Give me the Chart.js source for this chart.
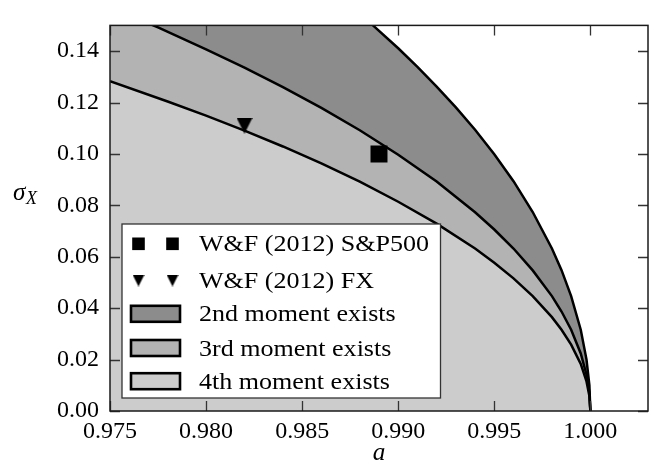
<!DOCTYPE html>
<html>
<head>
<meta charset="utf-8">
<script src="https://cdn.jsdelivr.net/npm/chart.js@4/dist/chart.umd.min.js"></script>
<style>
  html, body { margin: 0; padding: 0; background: #fff; overflow: hidden; }
  #wrap { width: 653px; height: 466px; overflow: hidden; position: relative; }
  canvas { display: block; }
</style>
</head>
<body>
<div id="wrap"><canvas id="c" width="660" height="466"></canvas></div>
<script>
// Boundary of the region where the 2nd moment exists
const aSecond = [0.975, 0.980, 0.985, 0.9887, 0.990, 0.991, 0.992, 0.993, 0.994, 0.995, 0.996, 0.997, 0.998, 0.9985, 0.999, 0.9995, 0.9998, 0.99995, 1.0];
const sigmaSecond = [0.2222, 0.1990, 0.1726, 0.1499, 0.1411, 0.1339, 0.1262, 0.1181, 0.1094, 0.0999, 0.0894, 0.0774, 0.0632, 0.0548, 0.0447, 0.0316, 0.0200, 0.0100, 0];

// Boundary of the region where the 3rd moment exists
const aThird = [0.975, 0.9775, 0.980, 0.982, 0.984, 0.986, 0.988, 0.990, 0.992, 0.994, 0.995, 0.996, 0.997, 0.998, 0.9985, 0.999, 0.9995, 0.9998, 0.99995, 1.0];
const sigmaThird = [0.1571, 0.1492, 0.1407, 0.1336, 0.1260, 0.1179, 0.1092, 0.0997, 0.0893, 0.0773, 0.0706, 0.0632, 0.0547, 0.0447, 0.0387, 0.0316, 0.0224, 0.0141, 0.0071, 0];

// Boundary of the region where the 4th moment exists
const aFourth = [0.975, 0.978, 0.980, 0.982, 0.984, 0.986, 0.988, 0.990, 0.992, 0.994, 0.995, 0.996, 0.997, 0.998, 0.9985, 0.999, 0.9995, 0.9998, 0.99995, 1.0];
const sigmaFourth = [0.1283, 0.1204, 0.1149, 0.1091, 0.1029, 0.0963, 0.0892, 0.0814, 0.0729, 0.0632, 0.0577, 0.0516, 0.0447, 0.0365, 0.0316, 0.0258, 0.0183, 0.0115, 0.0058, 0];

// Published estimates
const aSP500 = [0.989];
const sigmaSP500 = [0.100];
const aFX = [0.982];
const sigmaFX = [0.111];

// Axis ticks
const xTicks = [0.975, 0.980, 0.985, 0.990, 0.995, 1.000];
const xTickLabels = ['0.975', '0.980', '0.985', '0.990', '0.995', '1.000'];
const yTicks = [0.00, 0.02, 0.04, 0.06, 0.08, 0.10, 0.12, 0.14];
const yTickLabels = ['0.00', '0.02', '0.04', '0.06', '0.08', '0.10', '0.12', '0.14'];

const legendLabels = ['W&F (2012) S&P500', 'W&F (2012) FX', '2nd moment exists', '3rd moment exists', '4th moment exists'];

const FONT = "'Liberation Serif', Tinos, 'Times New Roman', Times, 'Nimbus Roman', 'DejaVu Serif', serif";
const DARK = '#8c8c8c', MID = '#b3b3b3', LIGHT = '#cccccc';

const pts = (xs, ys) => xs.map((x, i) => ({ x: x, y: ys[i] }));

// Font size giving a 54px wide tick label whichever serif face is found
function pickSize() {
  const g = document.createElement('canvas').getContext('2d');
  g.font = '24px ' + FONT;
  const w = g.measureText('0.975').width;
  return w > 0 ? Math.min(24, 24 * 54 / w) : 20;
}

// Down-pointing triangle marker
function triangleDown(size) {
  const c = document.createElement('canvas');
  c.width = size; c.height = size;
  const g = c.getContext('2d');
  g.fillStyle = '#000';
  g.beginPath();
  g.moveTo(0, 0); g.lineTo(size, 0); g.lineTo(size / 2, size); g.closePath();
  g.fill();
  return c;
}
const triPlot = triangleDown(16);
const triLegend = triangleDown(12);

function build() {
  const FS = pickSize();

  const overlay = {
    id: 'overlay',
    afterDatasetsDraw(chart) {
      const { ctx, chartArea: ca, scales } = chart;
      ctx.save();
      // inward ticks on all four sides
      ctx.strokeStyle = '#333';
      ctx.lineWidth = 1.3;
      const L = 10;
      ctx.beginPath();
      xTicks.forEach(v => {
        const px = Math.round(scales.x.getPixelForValue(v)) + 0.5;
        ctx.moveTo(px, ca.bottom); ctx.lineTo(px, ca.bottom - L);
        ctx.moveTo(px, ca.top); ctx.lineTo(px, ca.top + L);
      });
      yTicks.forEach(v => {
        const py = Math.round(scales.y.getPixelForValue(v)) + 0.5;
        ctx.moveTo(ca.left, py); ctx.lineTo(ca.left + L, py);
        ctx.moveTo(ca.right, py); ctx.lineTo(ca.right - L, py);
      });
      ctx.stroke();
      // axes frame
      ctx.strokeStyle = '#1a1a1a';
      ctx.lineWidth = 1.5;
      ctx.strokeRect(ca.left, ca.top, ca.right - ca.left, ca.bottom - ca.top);
      ctx.restore();
    },
    afterDraw(chart) {
      const { ctx, chartArea: ca } = chart;
      ctx.save();
      // legend box
      const bx = 122, by = 224, bw = 318.5, bh = 174;
      ctx.fillStyle = '#fff';
      ctx.fillRect(bx, by, bw, bh);
      ctx.strokeStyle = '#333';
      ctx.lineWidth = 1.3;
      ctx.strokeRect(bx, by, bw, bh);
      const rows = [243.8, 280.5, 313.8, 348.0, 381.2];
      const widths = [230, 178, 201, 197, 197];
      const fills = [null, null, DARK, MID, LIGHT];
      ctx.font = FS.toFixed(2) + 'px ' + FONT;
      const ref = ctx.measureText(legendLabels[0]).width;
      rows.forEach((cy, i) => {
        if (i === 0) {
          ctx.fillStyle = '#000';
          [138.5, 172.5].forEach(cx => ctx.fillRect(cx - 6.3, cy - 6.3, 12.6, 12.6));
        } else if (i === 1) {
          [138.5, 172.5].forEach(cx => ctx.drawImage(triLegend, cx - 6, cy - 6));
        } else {
          ctx.fillStyle = fills[i];
          ctx.fillRect(131, cy - 8, 49, 16);
          ctx.strokeStyle = '#000';
          ctx.lineWidth = 2.6;
          ctx.strokeRect(131, cy - 8, 49, 16);
        }
        ctx.fillStyle = '#000';
        ctx.textAlign = 'left';
        ctx.textBaseline = 'alphabetic';
        // one common horizontal stretch, set by the longest entry
        const sx = ref > 0 ? widths[0] / ref : 1;
        ctx.save();
        ctx.translate(199, cy + 7.5);
        ctx.scale(sx, 1);
        ctx.fillText(legendLabels[i], 0, 0);
        ctx.restore();
      });
      // axis titles
      ctx.fillStyle = '#000';
      ctx.textBaseline = 'alphabetic';
      ctx.textAlign = 'left';
      ctx.font = 'italic ' + (FS * 1.05).toFixed(2) + 'px ' + FONT;
      ctx.fillText('σ', 13, 200);
      ctx.font = 'italic ' + (FS * 0.75).toFixed(2) + 'px ' + FONT;
      ctx.fillText('X', 26, 204);
      ctx.font = 'italic ' + (FS * 1.05).toFixed(2) + 'px ' + FONT;
      ctx.textAlign = 'center';
      ctx.fillText('a', (ca.left + ca.right) / 2, 460);
      ctx.restore();
    }
  };

  new Chart(document.getElementById('c'), {
    type: 'line',
    data: {
      datasets: [
        { label: legendLabels[0], data: pts(aSP500, sigmaSP500), showLine: false,
          pointStyle: 'rect', pointRadius: 12, pointBackgroundColor: '#000', pointBorderWidth: 0, fill: false },
        { label: legendLabels[1], data: pts(aFX, sigmaFX), showLine: false,
          pointStyle: triPlot, pointRadius: 8, fill: false },
        { label: legendLabels[4], data: pts(aFourth, sigmaFourth), borderColor: '#000', borderWidth: 2.5,
          backgroundColor: LIGHT, fill: 'origin', pointRadius: 0 },
        { label: legendLabels[3], data: pts(aThird, sigmaThird), borderColor: '#000', borderWidth: 2.5,
          backgroundColor: MID, fill: 'origin', pointRadius: 0 },
        { label: legendLabels[2], data: pts(aSecond, sigmaSecond), borderColor: '#000', borderWidth: 2.5,
          backgroundColor: DARK, fill: 'origin', pointRadius: 0 }
      ]
    },
    options: {
      responsive: false,
      animation: false,
      devicePixelRatio: 1,
      layout: { padding: { top: 7, right: 3.2, left: 0, bottom: 0 } },
      plugins: {
        legend: { display: false },
        tooltip: { enabled: false },
        filler: { drawTime: 'beforeDatasetsDraw' }
      },
      scales: {
        x: {
          type: 'linear', min: 0.975, max: 1.003,
          grid: { display: false, drawTicks: false },
          border: { display: false },
          afterBuildTicks: s => { s.ticks = xTicks.map(v => ({ value: v })); },
          afterFit: s => { s.height = 55; },
          ticks: {
            padding: 6, maxRotation: 0, autoSkip: false, color: '#000',
            font: { family: FONT, size: FS },
            callback: (v, i) => xTickLabels[i]
          }
        },
        y: {
          type: 'linear', min: 0, max: 0.15,
          grid: { display: false, drawTicks: false },
          border: { display: false },
          afterBuildTicks: s => { s.ticks = yTicks.map(v => ({ value: v })); },
          afterFit: s => { s.width = 110; },
          ticks: {
            padding: 11, autoSkip: false, color: '#000',
            font: { family: FONT, size: FS },
            callback: (v, i) => yTickLabels[i]
          }
        }
      }
    },
    plugins: [overlay]
  });
}

const loads = [
  document.fonts.load("24px 'Liberation Serif'"),
  document.fonts.load("italic 24px 'Liberation Serif'"),
  document.fonts.load("24px 'DejaVu Serif'"),
  document.fonts.load("italic 24px 'DejaVu Serif'")
];
Promise.race([Promise.all(loads), new Promise(r => setTimeout(r, 1500))])
  .then(() => document.fonts.ready)
  .then(build, build);
</script>
</body>
</html>
